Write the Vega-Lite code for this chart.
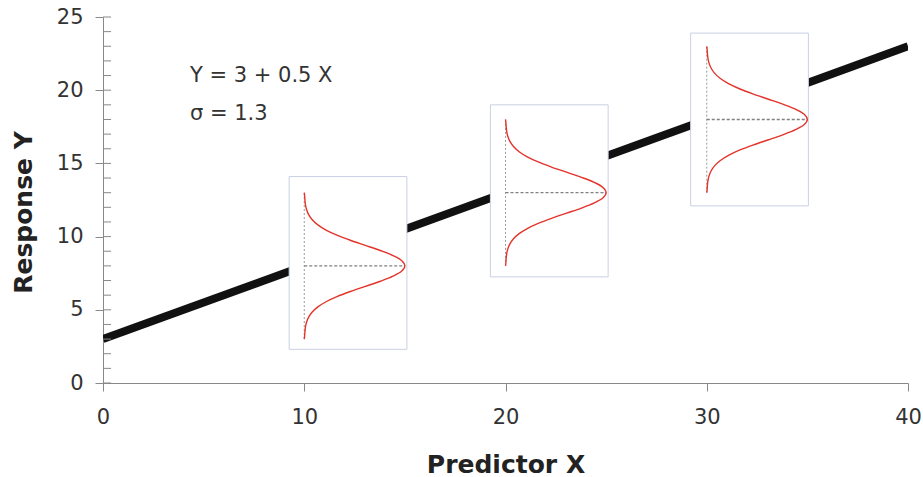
{
  "$schema": "https://vega.github.io/schema/vega-lite/v6.json",
  "width": 805,
  "height": 366,
  "autosize": {"type": "none"},
  "padding": {"left": 103, "top": 17, "right": 15, "bottom": 94},
  "background": "white",
  "config": {
    "view": {"stroke": null},
    "axis": {"grid": false, "labelFlush": false, "labelFont": "DejaVu Sans", "titleFont": "DejaVu Sans", "labelColor": "#333333", "titleColor": "#222222", "domainColor": "#888888", "tickColor": "#888888"}
  },
  "datasets": {
    "line": [{"x": 0, "y": 3}, {"x": 40, "y": 23}],
    "boxes": [
      {"x": 9.25, "x2": 15.1, "y": 2.3, "y2": 14.1},
      {"x": 19.25, "x2": 25.1, "y": 7.25, "y2": 19.0},
      {"x": 29.2, "x2": 35.05, "y": 12.1, "y2": 23.9}
    ],
    "vrules": [
      {"x": 10, "y": 3.0, "y2": 13.0},
      {"x": 20, "y": 8.0, "y2": 18.0},
      {"x": 30, "y": 13.0, "y2": 23.0}
    ],
    "hrules": [
      {"x": 10, "x2": 15, "y": 8},
      {"x": 20, "x2": 25, "y": 13},
      {"x": 30, "x2": 35, "y": 18}
    ],
    "minor": [
      {"y": 0}, {"y": 1}, {"y": 2}, {"y": 3}, {"y": 4}, {"y": 5}, {"y": 6}, {"y": 7}, {"y": 8}, {"y": 9},
      {"y": 10}, {"y": 11}, {"y": 12}, {"y": 13}, {"y": 14}, {"y": 15}, {"y": 16}, {"y": 17}, {"y": 18}, {"y": 19},
      {"y": 20}, {"y": 21}, {"y": 22}, {"y": 23}, {"y": 24}, {"y": 25}
    ],
    "labels": [
      {"x": 4.32, "y": 20.58, "t": "Y = 3 + 0.5 X"},
      {"x": 4.32, "y": 17.96, "t": "σ = 1.3"}
    ],
    "curves": [
      {"g": 1, "i": 0, "x": 10.0, "y": 13.0},
      {"g": 1, "i": 1, "x": 10.011, "y": 12.9},
      {"g": 1, "i": 2, "x": 10.056, "y": 12.2},
      {"g": 1, "i": 3, "x": 10.114, "y": 11.85},
      {"g": 1, "i": 4, "x": 10.22, "y": 11.5},
      {"g": 1, "i": 5, "x": 10.398, "y": 11.15},
      {"g": 1, "i": 6, "x": 10.677, "y": 10.8},
      {"g": 1, "i": 7, "x": 11.082, "y": 10.45},
      {"g": 1, "i": 8, "x": 11.624, "y": 10.1},
      {"g": 1, "i": 9, "x": 12.289, "y": 9.75},
      {"g": 1, "i": 10, "x": 13.033, "y": 9.4},
      {"g": 1, "i": 11, "x": 13.774, "y": 9.05},
      {"g": 1, "i": 12, "x": 14.412, "y": 8.7},
      {"g": 1, "i": 13, "x": 14.846, "y": 8.35},
      {"g": 1, "i": 14, "x": 15.0, "y": 8.0},
      {"g": 1, "i": 15, "x": 14.846, "y": 7.65},
      {"g": 1, "i": 16, "x": 14.412, "y": 7.3},
      {"g": 1, "i": 17, "x": 13.774, "y": 6.95},
      {"g": 1, "i": 18, "x": 13.033, "y": 6.6},
      {"g": 1, "i": 19, "x": 12.289, "y": 6.25},
      {"g": 1, "i": 20, "x": 11.624, "y": 5.9},
      {"g": 1, "i": 21, "x": 11.082, "y": 5.55},
      {"g": 1, "i": 22, "x": 10.677, "y": 5.2},
      {"g": 1, "i": 23, "x": 10.398, "y": 4.85},
      {"g": 1, "i": 24, "x": 10.22, "y": 4.5},
      {"g": 1, "i": 25, "x": 10.114, "y": 4.15},
      {"g": 1, "i": 26, "x": 10.056, "y": 3.8},
      {"g": 1, "i": 27, "x": 10.011, "y": 3.1},
      {"g": 1, "i": 28, "x": 10.0, "y": 3.0},
      {"g": 2, "i": 0, "x": 20.0, "y": 18.0},
      {"g": 2, "i": 1, "x": 20.011, "y": 17.9},
      {"g": 2, "i": 2, "x": 20.056, "y": 17.2},
      {"g": 2, "i": 3, "x": 20.114, "y": 16.85},
      {"g": 2, "i": 4, "x": 20.22, "y": 16.5},
      {"g": 2, "i": 5, "x": 20.398, "y": 16.15},
      {"g": 2, "i": 6, "x": 20.677, "y": 15.8},
      {"g": 2, "i": 7, "x": 21.082, "y": 15.45},
      {"g": 2, "i": 8, "x": 21.624, "y": 15.1},
      {"g": 2, "i": 9, "x": 22.289, "y": 14.75},
      {"g": 2, "i": 10, "x": 23.033, "y": 14.4},
      {"g": 2, "i": 11, "x": 23.774, "y": 14.05},
      {"g": 2, "i": 12, "x": 24.412, "y": 13.7},
      {"g": 2, "i": 13, "x": 24.846, "y": 13.35},
      {"g": 2, "i": 14, "x": 25.0, "y": 13.0},
      {"g": 2, "i": 15, "x": 24.846, "y": 12.65},
      {"g": 2, "i": 16, "x": 24.412, "y": 12.3},
      {"g": 2, "i": 17, "x": 23.774, "y": 11.95},
      {"g": 2, "i": 18, "x": 23.033, "y": 11.6},
      {"g": 2, "i": 19, "x": 22.289, "y": 11.25},
      {"g": 2, "i": 20, "x": 21.624, "y": 10.9},
      {"g": 2, "i": 21, "x": 21.082, "y": 10.55},
      {"g": 2, "i": 22, "x": 20.677, "y": 10.2},
      {"g": 2, "i": 23, "x": 20.398, "y": 9.85},
      {"g": 2, "i": 24, "x": 20.22, "y": 9.5},
      {"g": 2, "i": 25, "x": 20.114, "y": 9.15},
      {"g": 2, "i": 26, "x": 20.056, "y": 8.8},
      {"g": 2, "i": 27, "x": 20.011, "y": 8.1},
      {"g": 2, "i": 28, "x": 20.0, "y": 8.0},
      {"g": 3, "i": 0, "x": 30.0, "y": 23.0},
      {"g": 3, "i": 1, "x": 30.011, "y": 22.9},
      {"g": 3, "i": 2, "x": 30.056, "y": 22.2},
      {"g": 3, "i": 3, "x": 30.114, "y": 21.85},
      {"g": 3, "i": 4, "x": 30.22, "y": 21.5},
      {"g": 3, "i": 5, "x": 30.398, "y": 21.15},
      {"g": 3, "i": 6, "x": 30.677, "y": 20.8},
      {"g": 3, "i": 7, "x": 31.082, "y": 20.45},
      {"g": 3, "i": 8, "x": 31.624, "y": 20.1},
      {"g": 3, "i": 9, "x": 32.289, "y": 19.75},
      {"g": 3, "i": 10, "x": 33.033, "y": 19.4},
      {"g": 3, "i": 11, "x": 33.774, "y": 19.05},
      {"g": 3, "i": 12, "x": 34.412, "y": 18.7},
      {"g": 3, "i": 13, "x": 34.846, "y": 18.35},
      {"g": 3, "i": 14, "x": 35.0, "y": 18.0},
      {"g": 3, "i": 15, "x": 34.846, "y": 17.65},
      {"g": 3, "i": 16, "x": 34.412, "y": 17.3},
      {"g": 3, "i": 17, "x": 33.774, "y": 16.95},
      {"g": 3, "i": 18, "x": 33.033, "y": 16.6},
      {"g": 3, "i": 19, "x": 32.289, "y": 16.25},
      {"g": 3, "i": 20, "x": 31.624, "y": 15.9},
      {"g": 3, "i": 21, "x": 31.082, "y": 15.55},
      {"g": 3, "i": 22, "x": 30.677, "y": 15.2},
      {"g": 3, "i": 23, "x": 30.398, "y": 14.85},
      {"g": 3, "i": 24, "x": 30.22, "y": 14.5},
      {"g": 3, "i": 25, "x": 30.114, "y": 14.15},
      {"g": 3, "i": 26, "x": 30.056, "y": 13.8},
      {"g": 3, "i": 27, "x": 30.011, "y": 13.1},
      {"g": 3, "i": 28, "x": 30.0, "y": 13.0}
    ]
  },
  "layer": [
    {
      "data": {"name": "line"},
      "mark": {"type": "line", "color": "#111111", "strokeWidth": 8, "clip": true},
      "encoding": {
        "x": {"field": "x", "type": "quantitative", "scale": {"domain": [0, 40], "nice": false},
          "axis": {"values": [0, 10, 20, 30, 40], "tickSize": 8, "labelFontSize": 21, "labelPadding": 15, "title": "Predictor X", "titleFontSize": 25, "titleFontWeight": "bold", "titlePadding": 25}},
        "y": {"field": "y", "type": "quantitative", "scale": {"domain": [0, 25], "nice": false},
          "axis": {"values": [0, 5, 10, 15, 20, 25], "tickSize": 8, "labelFontSize": 21, "labelPadding": 12, "title": "Response Y", "titleFontSize": 25, "titleFontWeight": "bold", "titlePadding": 20, "titleY": 195}}
      }
    },
    {
      "data": {"name": "minor"},
      "mark": {"type": "rule", "color": "#888888", "strokeWidth": 1},
      "encoding": {
        "y": {"field": "y", "type": "quantitative"},
        "x": {"datum": 0},
        "x2": {"datum": 0.4}
      }
    },
    {
      "data": {"name": "boxes"},
      "mark": {"type": "rect", "fill": "white", "stroke": "#c9d0e3", "strokeWidth": 1},
      "encoding": {
        "x": {"field": "x", "type": "quantitative"},
        "x2": {"field": "x2"},
        "y": {"field": "y", "type": "quantitative"},
        "y2": {"field": "y2"}
      }
    },
    {
      "data": {"name": "vrules"},
      "mark": {"type": "rule", "color": "#999999", "strokeWidth": 1, "strokeDash": [2, 2]},
      "encoding": {
        "x": {"field": "x", "type": "quantitative"},
        "y": {"field": "y", "type": "quantitative"},
        "y2": {"field": "y2"}
      }
    },
    {
      "data": {"name": "hrules"},
      "mark": {"type": "rule", "color": "#808080", "strokeWidth": 1.3, "strokeDash": [3, 2]},
      "encoding": {
        "x": {"field": "x", "type": "quantitative"},
        "x2": {"field": "x2"},
        "y": {"field": "y", "type": "quantitative"}
      }
    },
    {
      "data": {"name": "curves"},
      "mark": {"type": "line", "color": "#e3342b", "strokeWidth": 1.4, "interpolate": "catmull-rom"},
      "encoding": {
        "x": {"field": "x", "type": "quantitative"},
        "y": {"field": "y", "type": "quantitative"},
        "detail": {"field": "g", "type": "nominal"},
        "order": {"field": "i", "type": "quantitative"}
      }
    },
    {
      "data": {"name": "labels"},
      "mark": {"type": "text", "align": "left", "baseline": "alphabetic", "font": "DejaVu Sans", "fontSize": 21, "color": "#333333"},
      "encoding": {
        "x": {"field": "x", "type": "quantitative"},
        "y": {"field": "y", "type": "quantitative"},
        "text": {"field": "t"}
      }
    }
  ]
}
